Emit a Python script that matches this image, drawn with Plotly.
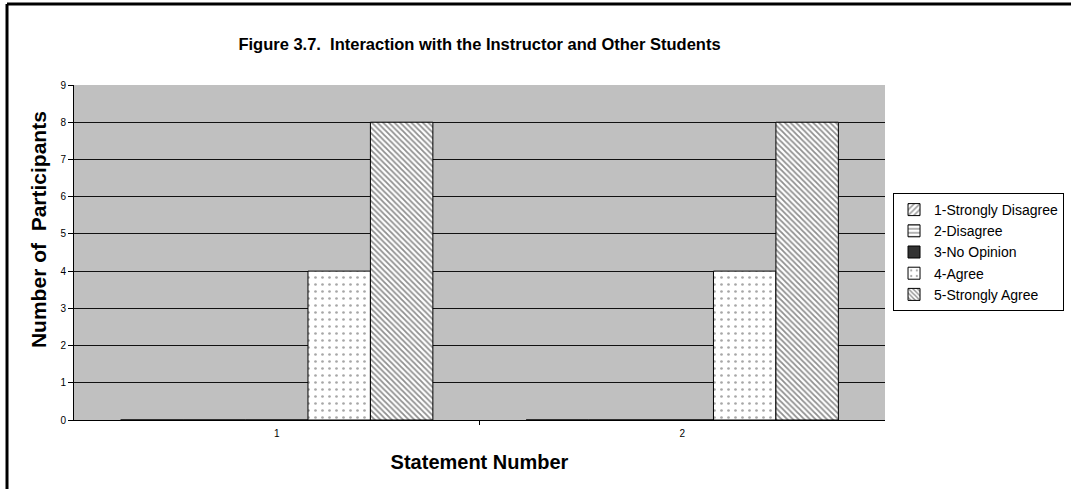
import plotly.graph_objects as go

statements = ["1", "2"]
series_names = ["1-Strongly Disagree", "2-Disagree", "3-No Opinion", "4-Agree", "5-Strongly Agree"]
strongly_disagree = [0, 0]
disagree = [0, 0]
no_opinion = [0, 0]
agree = [4, 4]
strongly_agree = [8, 8]

values = [strongly_disagree, disagree, no_opinion, agree, strongly_agree]
# look of each series (pattern shape, fill colour, pattern colour, size, solidity)
styles = [
    ("/", "white", "#404040", 5, 0.4),
    ("-", "white", "#404040", 5, 0.4),
    ("", "#333333", "#333333", 5, 0.4),
    (".", "white", "#505050", 7, 0.12),
    ("\\", "white", "#202020", 4, 0.45),
]

FONT = "Liberation Sans, Arial, sans-serif"

fig = go.Figure()
for name, vals, (shape, bg, fg, sz, sol) in zip(series_names, values, styles):
    fig.add_trace(go.Bar(
        x=statements, y=vals, name=name,
        marker=dict(color=bg, line=dict(color="black", width=1),
                    pattern=dict(shape=shape, fgcolor=fg, bgcolor=bg, size=sz, solidity=sol)),
    ))

fig.update_layout(
    width=1071, height=489,
    margin=dict(l=74, r=186, t=85, b=69, autoexpand=False),
    paper_bgcolor="white",
    plot_bgcolor="#C0C0C0",
    barmode="group",
    bargap=0.23,
    bargroupgap=0,
    font=dict(family=FONT, color="black"),
    title=dict(text="<b>Figure 3.7.  Interaction with the Instructor and Other Students</b>",
               x=0.5, xref="paper", y=1 - 44 / 489, yanchor="middle",
               font=dict(size=16.5)),
    xaxis=dict(
        title=dict(text="<b>Statement Number</b>", font=dict(size=20), standoff=16),
        showline=True, linecolor="black", linewidth=1,
        ticks="", tickfont=dict(size=10), ticklabelstandoff=4,
        showgrid=False,
    ),
    yaxis=dict(
        range=[0, 9], dtick=1,
        showline=True, linecolor="black", linewidth=1,
        ticks="outside", ticklen=5, tickcolor="black", tickfont=dict(size=10),
        showgrid=True, gridcolor="#111111", gridwidth=1,
        zeroline=False,
    ),
    legend=dict(
        x=1.0099, xanchor="left", y=0.6776, yanchor="top",
        bordercolor="black", borderwidth=1, bgcolor="white",
        font=dict(size=14), itemwidth=30, tracegroupgap=0,
    ),
    showlegend=True,
)

# y axis title sits a bit above the middle of the axis in the original
fig.add_annotation(text="<b>Number of  Participants</b>", textangle=-90,
                   xref="paper", yref="paper", x=-0.0444, y=0.570,
                   xanchor="center", yanchor="middle",
                   showarrow=False, font=dict(size=21))

# tick between the two categories on the x axis
fig.add_shape(type="line", xref="x", yref="paper", x0=0.5, x1=0.5, y0=0, y1=-0.015,
              line=dict(color="black", width=1))

# outer frame (top and left edges)
fig.add_shape(type="line", xref="paper", yref="paper", x0=-0.0826, x1=1.3, y0=1.2418, y1=1.2418,
              line=dict(color="black", width=3))
fig.add_shape(type="line", xref="paper", yref="paper", x0=-0.0826, x1=-0.0826, y0=-0.3, y1=1.2418,
              line=dict(color="black", width=3))

fig.write_html("out.html", config={"displayModeBar": False},
               post_script="document.body.style.margin='0';")
